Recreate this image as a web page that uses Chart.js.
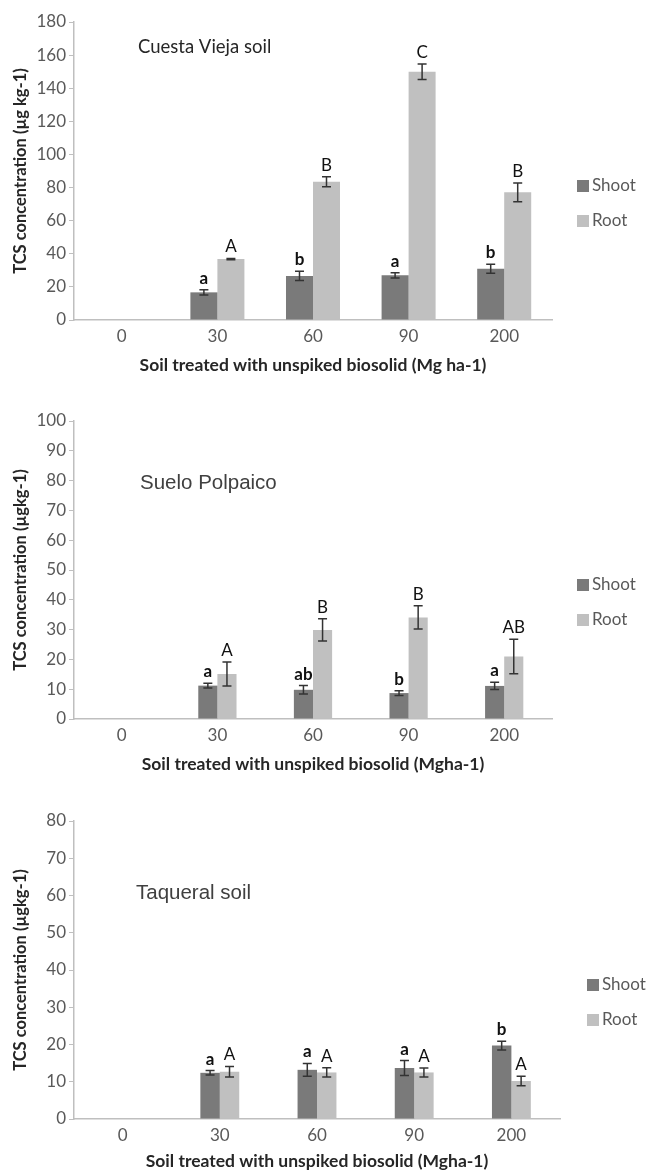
<!DOCTYPE html>
<html lang="en">
<head>
<meta charset="utf-8">
<title>TCS concentration in shoot and root</title>
<script src="https://cdn.jsdelivr.net/npm/chart.js@4.4.1/dist/chart.umd.min.js"></script>
<style>
  html, body { margin: 0; padding: 0; background: #fff; overflow: hidden; }
  #wrap { position: relative; width: 647px; height: 1171px; overflow: hidden; }
  #wrap canvas { position: absolute; left: 0; }
</style>
</head>
<body>
<div id="wrap">
  <canvas id="c1" width="647" height="400" style="top:0"></canvas>
  <canvas id="c2" width="647" height="400" style="top:399px"></canvas>
  <canvas id="c3" width="647" height="400" style="top:799px"></canvas>
</div>
<script>
// Doses of biosolid (Mg/ha)
const DOSES = ['0', '30', '60', '90', '200'];

// Cuesta Vieja soil
const cvShoot = [null, 16.7, 26.6, 27.0, 31.0];
const cvShootErr = [0, 1.6, 2.8, 1.6, 2.7];
const cvRoot = [null, 36.8, 83.5, 150.0, 77.1];
const cvRootErr = [0, 0.4, 3.0, 4.7, 5.6];
const cvShootLetters = ['', 'a', 'b', 'a', 'b'];
const cvRootLetters = ['', 'A', 'B', 'C', 'B'];
const cvTicks = { max: 180, step: 20 };

// Suelo Polpaico
const spShoot = [null, 11.2, 9.8, 8.7, 11.1];
const spShootErr = [0, 0.8, 1.4, 0.8, 1.2];
const spRoot = [null, 15.1, 29.9, 34.1, 21.0];
const spRootErr = [0, 4.0, 3.7, 3.9, 5.8];
const spShootLetters = ['', 'a', 'ab', 'b', 'a'];
const spRootLetters = ['', 'A', 'B', 'B', 'AB'];
const spTicks = { max: 100, step: 10 };

// Taqueral soil
const tqShoot = [null, 12.4, 13.2, 13.7, 19.7];
const tqShootErr = [0, 0.6, 1.7, 2.0, 1.2];
const tqRoot = [null, 12.7, 12.5, 12.5, 10.2];
const tqRootErr = [0, 1.4, 1.25, 1.2, 1.3];
const tqShootLetters = ['', 'a', 'a', 'a', 'b'];
const tqRootLetters = ['', 'A', 'A', 'A', 'A'];
const tqTicks = { max: 80, step: 10 };

const SHOOT_COLOR = '#7a7a7a';
const ROOT_COLOR = '#c0c0c0';
const AXIS_COLOR = '#bfbfbf';
const TICK_COLOR = '#595959';
const DARK = '#262626';
const FONT = 'Lato, "Open Sans", sans-serif';

// error bars, letters, in-plot title and legend
const annotations = {
    id: 'annotations',
    afterDatasetsDraw(chart) {
        const ctx = chart.ctx;
        const y = chart.scales.y;
        ctx.save();
        chart.data.datasets.forEach((ds, i) => {
            const meta = chart.getDatasetMeta(i);
            meta.data.forEach((bar, j) => {
                const v = ds.data[j];
                if (v == null) return;
                const e = ds.err[j];
                const top = y.getPixelForValue(v + e);
                const bot = y.getPixelForValue(v - e);
                ctx.strokeStyle = '#333';
                ctx.lineWidth = 1.5;
                ctx.beginPath();
                ctx.moveTo(bar.x, top); ctx.lineTo(bar.x, bot);
                ctx.moveTo(bar.x - 4.5, top); ctx.lineTo(bar.x + 4.5, top);
                ctx.moveTo(bar.x - 4.5, bot); ctx.lineTo(bar.x + 4.5, bot);
                ctx.stroke();
                const txt = ds.letters[j];
                if (txt) {
                    ctx.fillStyle = '#111';
                    ctx.font = (ds.boldLetters ? 'bold ' : '') + '17px ' + FONT;
                    ctx.textAlign = 'center';
                    ctx.textBaseline = 'alphabetic';
                    ctx.fillText(txt, bar.x, top - 6);
                }
            });
        });
        ctx.restore();
    },
    afterDraw(chart) {
        const ctx = chart.ctx;
        const o = chart.options.plugins.annotations;
        ctx.save();
        ctx.fillStyle = o.titleColor;
        ctx.font = o.titleFont;
        ctx.textAlign = 'left';
        ctx.textBaseline = 'middle';
        ctx.fillText(o.title, o.titleX, o.titleY);
        // legend
        const lx = chart.chartArea.right + o.legendGap;
        chart.data.datasets.forEach((ds, i) => {
            const ly = 186 + i * 35;
            ctx.fillStyle = ds.backgroundColor;
            ctx.fillRect(lx, ly - 6, 12, 12);
            ctx.fillStyle = TICK_COLOR;
            ctx.font = '17px ' + FONT;
            ctx.fillText(ds.label, lx + 15, ly);
        });
        ctx.restore();
    }
};

function makePanel(id, p) {
    return new Chart(document.getElementById(id), {
        type: 'bar',
        data: {
            labels: DOSES,
            datasets: [{
                label: 'Shoot',
                data: p.shoot,
                err: p.shootErr,
                letters: p.shootLetters,
                boldLetters: true,
                backgroundColor: SHOOT_COLOR,
                categoryPercentage: p.catPct,
                barPercentage: 1
            }, {
                label: 'Root',
                data: p.root,
                err: p.rootErr,
                letters: p.rootLetters,
                boldLetters: false,
                backgroundColor: ROOT_COLOR,
                categoryPercentage: p.catPct,
                barPercentage: 1
            }]
        },
        options: {
            responsive: false,
            animation: false,
            devicePixelRatio: 1,
            layout: { padding: { top: 22, right: p.right, left: 0, bottom: 0 } },
            plugins: {
                legend: { display: false },
                tooltip: { enabled: false },
                annotations: {
                    title: p.title, titleX: p.titleX, titleY: p.titleY,
                    titleFont: p.titleFont, titleColor: p.titleColor,
                    legendGap: p.legendGap
                }
            },
            scales: {
                x: {
                    grid: { display: false },
                    border: { color: AXIS_COLOR, width: 1.5 },
                    ticks: { color: TICK_COLOR, font: { family: FONT, size: 17 }, padding: -2 },
                    title: {
                        display: true, text: p.xTitle, color: DARK,
                        font: { family: FONT, size: 17.5, weight: 'bold', lineHeight: 1.2 },
                        padding: { top: 0, bottom: p.xTitlePad }
                    },
                    afterFit: s => { s.height = 80; }
                },
                y: {
                    min: 0, max: p.ticks.max,
                    grid: { drawOnChartArea: false, tickLength: 5, color: AXIS_COLOR },
                    border: { color: AXIS_COLOR, width: 1.5 },
                    ticks: { stepSize: p.ticks.step, color: TICK_COLOR, font: { family: FONT, size: 17 }, padding: 3 },
                    title: {
                        display: true, text: p.yTitle, color: DARK,
                        font: { family: FONT, size: 16.5, weight: 'bold', lineHeight: 1.2 },
                        padding: { top: 11, bottom: 0 }
                    },
                    afterFit: s => { s.width = 74; }
                }
            }
        },
        plugins: [annotations]
    });
}

makePanel('c1', {
    shoot: cvShoot, shootErr: cvShootErr, root: cvRoot, rootErr: cvRootErr,
    shootLetters: cvShootLetters, rootLetters: cvRootLetters, ticks: cvTicks,
    catPct: 0.565, right: 95, legendGap: 25, xTitlePad: 24,
    title: 'Cuesta Vieja soil', titleX: 138, titleY: 47,
    titleFont: '18.5px ' + FONT, titleColor: DARK,
    xTitle: 'Soil treated with unspiked biosolid (Mg ha-1)',
    yTitle: 'TCS concentration (µg kg-1)'
});

makePanel('c2', {
    shoot: spShoot, shootErr: spShootErr, root: spRoot, rootErr: spRootErr,
    shootLetters: spShootLetters, rootLetters: spRootLetters, ticks: spTicks,
    catPct: 0.40, right: 95, legendGap: 25, xTitlePad: 24,
    title: 'Suelo Polpaico', titleX: 140, titleY: 84,
    titleFont: '20.5px "Liberation Sans", Arial, sans-serif', titleColor: '#404040',
    xTitle: 'Soil treated with unspiked biosolid (Mgha-1)',
    yTitle: 'TCS concentration (µgkg-1)'
});

makePanel('c3', {
    shoot: tqShoot, shootErr: tqShootErr, root: tqRoot, rootErr: tqRootErr,
    shootLetters: tqShootLetters, rootLetters: tqRootLetters, ticks: tqTicks,
    catPct: 0.40, right: 87, legendGap: 27, xTitlePad: 27,
    title: 'Taqueral soil', titleX: 136, titleY: 94,
    titleFont: '20.5px "Liberation Sans", Arial, sans-serif', titleColor: '#404040',
    xTitle: 'Soil treated with unspiked biosolid (Mgha-1)',
    yTitle: 'TCS concentration (µgkg-1)'
});
</script>
</body>
</html>
